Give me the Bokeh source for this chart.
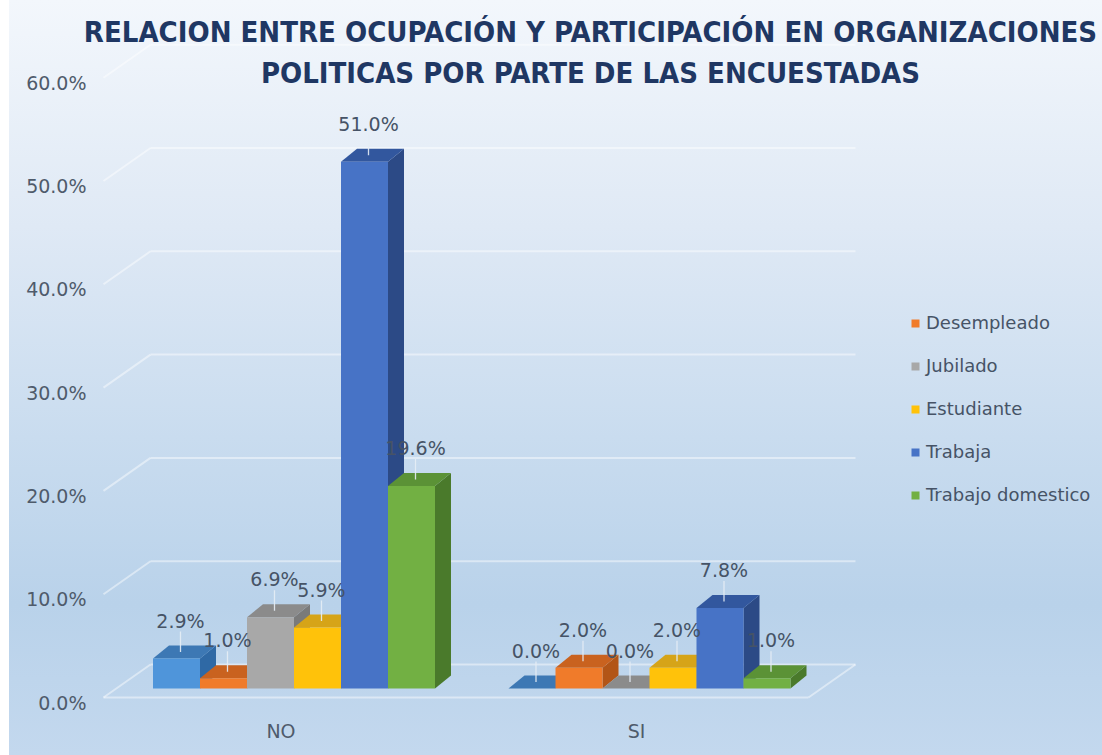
from bokeh.plotting import figure
from bokeh.models import (Range1d, LinearAxis, FixedTicker, PrintfTickFormatter,
                          Legend, LegendItem, Label)
from bokeh.embed import file_html
from bokeh.resources import INLINE
from bokeh.core.properties import value

# ---------------- data ----------------
groups = ["NO", "SI"]
series_names = ["", "Desempleado", "Jubilado", "Estudiante", "Trabaja", "Trabajo domestico"]
sin_dato = [2.9, 0.0]
desempleado = [1.0, 2.0]
jubilado = [6.9, 0.0]
estudiante = [5.9, 2.0]
trabaja = [51.0, 7.8]
trabajo_domestico = [19.6, 1.0]
y_ticks = [0, 10, 20, 30, 40, 50, 60]
title_lines = ["RELACION ENTRE OCUPACIÓN Y PARTICIPACIÓN EN ORGANIZACIONES",
               "POLITICAS POR PARTE DE LAS ENCUESTADAS"]

series_values = [sin_dato, desempleado, jubilado, estudiante, trabaja, trabajo_domestico]

# ---------------- styles ----------------
front_colors = ["#4f95da", "#f07b2a", "#a8a8a8", "#ffc20a", "#4773c6", "#72b043"]
top_colors = ["#3d78b4", "#c9621f", "#8b8b8b", "#d6a418", "#32579e", "#5b9236"]
side_colors = ["#2f69a5", "#b25517", "#7a7a7a", "#c08f00", "#2c4a86", "#4a7a2b"]
label_color = "#465366"
FONT = "DejaVu Sans"

W, H = 1102, 755
FL, FR, FT, FB = 82, 1102, 0, 713       # frame edges (page px)
PXU, X0 = 355.5, 293.5                   # px per group unit, centre of first group
PXV, Y0 = 10.33, 688                     # px per percent point, bar base


def du(px):
    return px / PXU


def dv(px):
    return px / PXV


x_rng = Range1d((FL - X0) / PXU, (FR - X0) / PXU)
y_rng = Range1d((Y0 - FB) / PXV, (Y0 - FT) / PXV)

p = figure(width=W, height=H, x_range=x_rng, y_range=y_rng, title=None,
           output_backend="svg", toolbar_location=None,
           x_axis_type=None, y_axis_type=None,
           min_border_left=FL, min_border_right=W - FR, min_border_top=FT,
           min_border_bottom=H - FB)
p.border_fill_color = None
p.background_fill_color = None
p.outline_line_color = None
p.xgrid.visible = False
p.ygrid.visible = False
p.styles = {"background": "linear-gradient(90deg, #ffffff 9px, rgba(255,255,255,0) 9px), "
                          "linear-gradient(180deg, #f3f7fc 0%, #dfe9f5 30%, #c9dcef 58%, "
                          "#b9d2ea 80%, #c3d8ee 100%)"}

# axes
p.extra_y_ranges = {"ax": Range1d(y_rng.start + dv(702 - Y0), y_rng.end + dv(702 - Y0))}
p.extra_x_ranges = {"lab": Range1d(x_rng.start + du(13), x_rng.end + du(13))}

yaxis = LinearAxis(y_range_name="ax", ticker=FixedTicker(ticks=y_ticks),
                   formatter=PrintfTickFormatter(format="%.1f%%"))
yaxis.axis_line_color = None
yaxis.major_tick_line_color = None
yaxis.minor_tick_line_color = None
yaxis.major_label_standoff = -10
yaxis.major_label_text_font = FONT
yaxis.major_label_text_font_size = "19px"
yaxis.major_label_text_color = "#4f5b6b"
p.add_layout(yaxis, "left")

xaxis = LinearAxis(x_range_name="lab", ticker=FixedTicker(ticks=list(range(len(groups)))),
                   major_label_overrides={i: g for i, g in enumerate(groups)})
xaxis.axis_line_color = None
xaxis.major_tick_line_color = None
xaxis.minor_tick_line_color = None
xaxis.major_label_standoff = 0
xaxis.major_label_text_font = FONT
xaxis.major_label_text_font_size = "19px"
xaxis.major_label_text_color = "#4f5b6b"
p.add_layout(xaxis, "below")

# 3D walls: gridlines on the back wall and the left wall, floor edges
back_l, back_r = du(150 - X0), du(855 - X0)
front_l, floor_r = du(103 - X0), du(808 - X0)
back_dy, front_dy = dv(Y0 - 664), dv(Y0 - 697)
grid_kw = dict(line_color="white", line_alpha=0.45, line_width=2)
p.segment(x0=[back_l] * len(y_ticks), y0=[t + back_dy for t in y_ticks],
          x1=[back_r] * len(y_ticks), y1=[t + back_dy for t in y_ticks], **grid_kw)
p.segment(x0=[front_l] * len(y_ticks), y0=[t + front_dy for t in y_ticks],
          x1=[back_l] * len(y_ticks), y1=[t + back_dy for t in y_ticks], **grid_kw)
p.segment(x0=[front_l, floor_r], y0=[front_dy, front_dy],
          x1=[floor_r, back_r], y1=[front_dy, back_dy], **grid_kw)

# bars
n = len(series_values)
bw = du(47)
ddx, ddy = du(16), dv(13)
front_renderers = []
for j, vals in enumerate(series_values):
    centers = [g + (j - (n - 1) / 2) * bw for g in range(len(groups))]
    lefts = [c - bw / 2 for c in centers]
    rights = [c + bw / 2 for c in centers]
    side_xs = [[r, r + ddx, r + ddx, r] for r in rights]
    side_ys = [[0, ddy, v + ddy, v] for v in vals]
    top_xs = [[l, r, r + ddx, l + ddx] for l, r in zip(lefts, rights)]
    top_ys = [[v, v, v + ddy, v + ddy] for v in vals]
    p.patches(xs=side_xs, ys=side_ys, fill_color=side_colors[j], line_color=None)
    p.patches(xs=top_xs, ys=top_ys, fill_color=top_colors[j], line_color=None)
    fr = p.quad(left=lefts, right=rights, bottom=[0] * len(vals), top=vals,
                fill_color=front_colors[j], line_color=None)
    front_renderers.append(fr)

# data labels with leader lines
for j, vals in enumerate(series_values):
    centers = [g + (j - (n - 1) / 2) * bw + ddx / 4 for g in range(len(groups))]
    p.segment(x0=centers, y0=[v + ddy / 2 for v in vals], x1=centers,
              y1=[v + dv(27) for v in vals], line_color="#e6edf5", line_width=1.3, line_alpha=0.9)
    p.text(x=centers, y=vals, text=[f"{v:.1f}%" for v in vals], y_offset=-38,
           text_align="center", text_baseline="middle", text_font=value(FONT),
           text_font_size="19px", text_color=label_color)

# legend (first series has no name)
items = [LegendItem(label=series_names[j], renderers=[front_renderers[j]])
         for j in range(1, n)]
legend = Legend(items=items, location=(910 - FL, 208), orientation="vertical",
                glyph_width=10, glyph_height=10, label_standoff=6, spacing=22,
                padding=0, margin=0, border_line_alpha=0, background_fill_alpha=0,
                label_text_font=FONT, label_text_font_size="18px",
                label_text_color=label_color)
p.add_layout(legend)

# title
TITLE_FONT = "'DejaVu Sans Condensed', 'DejaVu Sans', sans-serif"
for line, cy in zip(title_lines, [31, 72]):
    p.add_layout(Label(x=590 - FL, y=FB - cy, x_units="screen", y_units="screen",
                       text=line, text_align="center", text_baseline="middle",
                       text_font=TITLE_FONT, text_font_style="bold",
                       text_font_size="29px", text_color="#1f3763"))

open("out.html", "w").write(file_html(p, INLINE))
